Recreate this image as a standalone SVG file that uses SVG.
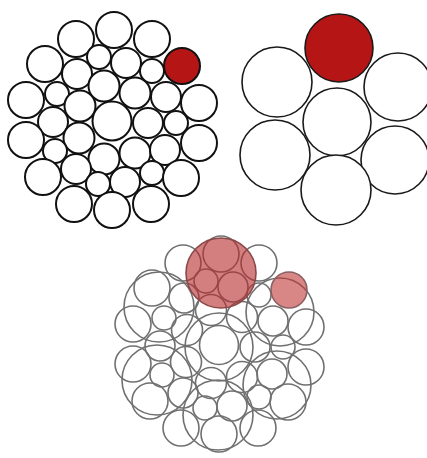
<svg xmlns="http://www.w3.org/2000/svg" xmlns:xlink="http://www.w3.org/1999/xlink" width="427" height="458" viewBox="0 0 427 458">
<defs>
<g id="pat">
<circle cx="76" cy="39" r="18"/><circle cx="114" cy="30" r="18"/><circle cx="152" cy="39" r="18"/>
<circle cx="45" cy="64" r="18"/><circle cx="77" cy="74" r="15"/><circle cx="99" cy="57" r="12"/><circle cx="126" cy="63" r="15"/><circle cx="152" cy="71" r="12"/>
<circle cx="26" cy="100" r="18"/><circle cx="57" cy="94" r="12"/><circle cx="80" cy="106" r="15.5"/><circle cx="104" cy="86" r="15.5"/><circle cx="135" cy="93" r="15.5"/><circle cx="166" cy="97" r="15"/><circle cx="199" cy="103" r="18"/>
<circle cx="112" cy="121" r="19.5"/><circle cx="53" cy="122" r="15"/><circle cx="26" cy="140" r="18"/><circle cx="148" cy="123" r="15"/><circle cx="176" cy="123" r="12"/><circle cx="199" cy="143" r="18"/>
<circle cx="79" cy="138" r="15.5"/><circle cx="55" cy="151" r="12"/><circle cx="104" cy="159" r="15.5"/><circle cx="135" cy="153" r="15.5"/><circle cx="165" cy="150" r="15"/>
<circle cx="43" cy="177" r="18"/><circle cx="76" cy="169" r="15"/><circle cx="98" cy="184" r="12"/><circle cx="125" cy="182" r="15"/><circle cx="152" cy="173" r="12"/><circle cx="181" cy="178" r="18"/>
<circle cx="74" cy="204" r="18"/><circle cx="112" cy="210" r="18"/><circle cx="151" cy="204" r="18"/>
</g>
<g id="hex">
<circle cx="-60" cy="-40" r="35"/><circle cx="61" cy="-35" r="34"/><circle cx="0" cy="0" r="34"/>
<circle cx="-62" cy="33" r="35"/><circle cx="58" cy="38" r="34"/><circle cx="-1" cy="68" r="35"/>
</g>
</defs>
<rect width="427" height="458" fill="#fff"/>
<g id="left" fill="#fff" stroke="#111" stroke-width="2">
<use xlink:href="#pat"/>
<circle cx="182" cy="66" r="18" fill="#b51515"/>
</g>
<g id="right" fill="#fff" stroke="#1a1a1a" stroke-width="1.6">
<use xlink:href="#hex" x="337" y="122"/>
<circle cx="339" cy="48" r="34" fill="#b51515"/>
</g>
<g id="bottom" fill="none" stroke="#707070" stroke-width="1.6">
<use xlink:href="#pat" x="107" y="224"/>
<use xlink:href="#hex" x="219" y="347"/>
<circle cx="221" cy="273" r="35" fill="#b82a2a" fill-opacity="0.6" stroke="#8a4848"/>
<circle cx="289" cy="290" r="18" fill="#c03535" fill-opacity="0.6" stroke="#8a6060"/>
</g>
</svg>
